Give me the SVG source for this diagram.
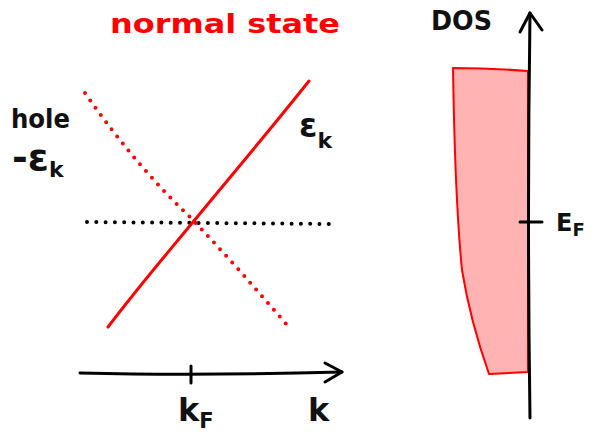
<svg xmlns="http://www.w3.org/2000/svg" width="597" height="439" viewBox="0 0 597 439">
<style>
text{font-family:"DejaVu Sans","Liberation Sans",sans-serif;font-weight:bold;fill:#111}
.red{fill:#ff0000}
.ax{fill:none;stroke:#000;stroke-width:3;stroke-linecap:round;stroke-linejoin:round}
</style>
<rect width="597" height="439" fill="#fff"/>
<g id="title"><text class="red" x="110" y="33" font-size="27" textLength="230" lengthAdjust="spacingAndGlyphs">normal state</text></g>
<g id="band-plot">
<path d="M87,222 L332,224" fill="none" stroke="#000" stroke-width="4" stroke-linecap="round" stroke-dasharray="0 9.3"/>
<path d="M85,93 Q135,165 193,220 Q240,270 287,325" fill="none" stroke="#ff0000" stroke-width="4" stroke-linecap="round" stroke-dasharray="0 9"/>
<path d="M108,327 C140,285 160,262 193,222 C240,165 270,130 309,81" fill="none" stroke="#ff0000" stroke-width="3" stroke-linecap="round"/>
</g>
<g id="labels-left">
<text x="11" y="128" font-size="27" textLength="59" lengthAdjust="spacingAndGlyphs">hole</text>
<text x="12" y="170" font-size="38">-ε<tspan font-size="22" dy="7">k</tspan></text>
<text x="299" y="137" font-size="33">ε<tspan font-size="22" dy="11">k</tspan></text>
</g>
<g id="k-axis">
<path class="ax" d="M80,373 Q200,376 342,372"/>
<path class="ax" d="M325,363 L342,372 L325,382"/>
<path class="ax" d="M191,366 L191,383"/>
<text x="178" y="421" font-size="32">k<tspan font-size="21" dy="7">F</tspan></text>
<text x="308" y="421" font-size="32">k</text>
</g>
<g id="dos">
<path d="M453,68 Q490,68 528,71 L528,372 L489,374 Q470,320 462,270 Q455,200 453,68 Z" fill="#ffb3b3" stroke="#ff0000" stroke-width="2" stroke-linejoin="round"/>
<path class="ax" d="M530,418 Q527,215 530,13"/>
<path class="ax" d="M520,32 L530,13 L542,30"/>
<path class="ax" d="M520,222 L542,222"/>
<text x="431" y="30" font-size="27" textLength="61" lengthAdjust="spacingAndGlyphs">DOS</text>
<text x="556" y="231" font-size="24">E<tspan font-size="18" dy="5">F</tspan></text>
</g>
</svg>
